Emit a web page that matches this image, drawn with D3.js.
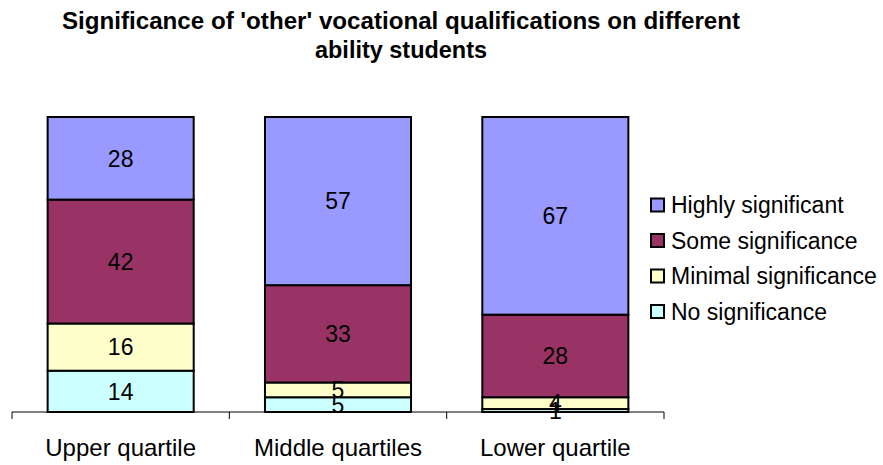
<!DOCTYPE html>
<html><head><meta charset="utf-8">
<script src="https://cdn.jsdelivr.net/npm/d3@7"></script>
<style>
body{margin:0;background:#fff;}
text{font-family:"Liberation Sans",Arial,sans-serif;fill:#000;}
</style></head>
<body><svg id="chart" width="883" height="465"></svg>
<script>
const categories = ["Upper quartile","Middle quartiles","Lower quartile"];
const seriesNames = ["No significance","Minimal significance","Some significance","Highly significant"];
const noSig = [14,5,1];
const minimalSig = [16,5,4];
const someSig = [42,33,28];
const highlySig = [28,57,67];
const colors = ["#CCFFFF","#FFFFCC","#993366","#9999FF"];
const titleLines = ["Significance of 'other' vocational qualifications on different","ability students"];

const seriesValues = [noSig, minimalSig, someSig, highlySig];
const rows = categories.map((c,i)=>{const o={cat:c}; seriesNames.forEach((s,j)=>o[s]=seriesValues[j][i]); return o;});
const stack = d3.stack().keys(seriesNames)(rows);

const svg = d3.select("#chart");
const x = d3.scaleBand().domain(categories).range([12,664]).paddingInner(0.328).paddingOuter(0.164);
const y = d3.scaleLinear().domain([0,100]).range([412,117]);
const color = d3.scaleOrdinal().domain(seriesNames).range(colors);

// title
const t = svg.append("text").attr("x",401).attr("text-anchor","middle")
  .style("font-weight","bold").style("font-size","23px");
t.append("tspan").attr("x",401).attr("y",29).text(titleLines[0]).attr("textLength",678).attr("lengthAdjust","spacingAndGlyphs");
t.append("tspan").attr("x",401).attr("y",58).text(titleLines[1]).attr("textLength",172).attr("lengthAdjust","spacingAndGlyphs");

// bars
const g = svg.append("g");
stack.forEach(layer=>{
  layer.forEach(d=>{
    g.append("rect").attr("x",x(d.data.cat)).attr("width",x.bandwidth())
      .attr("y",y(d[1])).attr("height",y(d[0])-y(d[1]))
      .attr("fill",color(layer.key)).attr("stroke","#000").attr("stroke-width",2);
  });
});
// labels
stack.forEach(layer=>{
  layer.forEach(d=>{
    g.append("text").attr("x",x(d.data.cat)+x.bandwidth()/2).attr("y",(y(d[0])+y(d[1]))/2)
      .attr("text-anchor","middle").attr("dy","0.36em").style("font-size","23px")
      .text(d[1]-d[0]);
  });
});

// axis
const axisG = svg.append("g").attr("transform","translate(0,412)");
const bounds = d3.range(categories.length+1).map(i=>x.range()[0]+i*x.step());
axisG.append("line").attr("x1",bounds[0]).attr("x2",bounds[bounds.length-1]).attr("y1",0).attr("y2",0).attr("stroke","#000").attr("stroke-width",1);
bounds.forEach(b=>axisG.append("line").attr("x1",b).attr("x2",b).attr("y1",0).attr("y2",7).attr("stroke","#000").attr("stroke-width",1));
categories.forEach(c=>axisG.append("text").attr("x",x(c)+x.bandwidth()/2).attr("y",44)
  .attr("text-anchor","middle").style("font-size","24px").text(c));

// legend
const legendOrder = seriesNames.slice().reverse();
const lg = svg.append("g");
legendOrder.forEach((s,i)=>{
  const cy = 205 + i*35.5;
  lg.append("rect").attr("x",651).attr("y",cy-6.5).attr("width",13).attr("height",13)
    .attr("fill",color(s)).attr("stroke","#000").attr("stroke-width",2);
  lg.append("text").attr("x",671).attr("y",cy).attr("dy","0.36em").style("font-size","23px").text(s);
});
</script></body></html>
